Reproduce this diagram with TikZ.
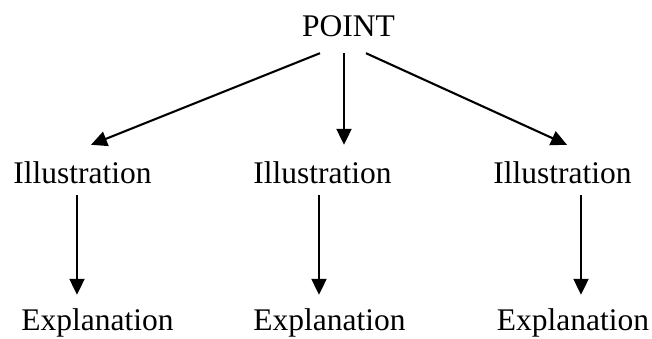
\documentclass[tikz,border=0pt]{standalone}
\usepackage{fontspec}
\setmainfont{Liberation Serif}
\usetikzlibrary{arrows.meta}
\begin{document}
\begin{tikzpicture}[x=1pt,y=-1pt,
  lbl/.style={anchor=base,inner sep=0pt,text height=22pt,text depth=7pt,
    font=\fontsize{31.5}{38}\selectfont},
  arr/.style={line width=2.1pt,-{Triangle[width=15pt,length=16pt]}}]
\useasboundingbox (0,0) rectangle (652,338);

% labels
\node[lbl] (point) at (348.5,36) {POINT};
\node[lbl] (ill1) at (82.5,183) {Illustration};
\node[lbl] (ill2) at (322.5,183) {Illustration};
\node[lbl] (ill3) at (562.5,183) {Illustration};
\node[lbl] (exp1) at (97.5,330) {Explanation};
\node[lbl] (exp2) at (329.5,330) {Explanation};
\node[lbl] (exp3) at (573,330) {Explanation};

% point to illustrations
\draw[arr] ([xshift=-28.5pt,yshift=-10pt]point.south) -- ([xshift=8.5pt,yshift=16pt]ill1.north);
\draw[arr] ([xshift=-4.5pt,yshift=-10pt]point.south) -- ([xshift=21.5pt,yshift=16pt]ill2.north);
\draw[arr] ([xshift=17.5pt,yshift=-10pt]point.south) -- ([xshift=4.5pt,yshift=16pt]ill3.north);

% illustrations to explanations
\draw[arr] ([xshift=-5.5pt,yshift=-5pt]ill1.south) -- ([xshift=-20.5pt,yshift=13pt]exp1.north);
\draw[arr] ([xshift=-3.5pt,yshift=-5pt]ill2.south) -- ([xshift=-10.5pt,yshift=13pt]exp2.north);
\draw[arr] ([xshift=18.5pt,yshift=-5pt]ill3.south) -- ([xshift=8pt,yshift=13pt]exp3.north);
\end{tikzpicture}
\end{document}
